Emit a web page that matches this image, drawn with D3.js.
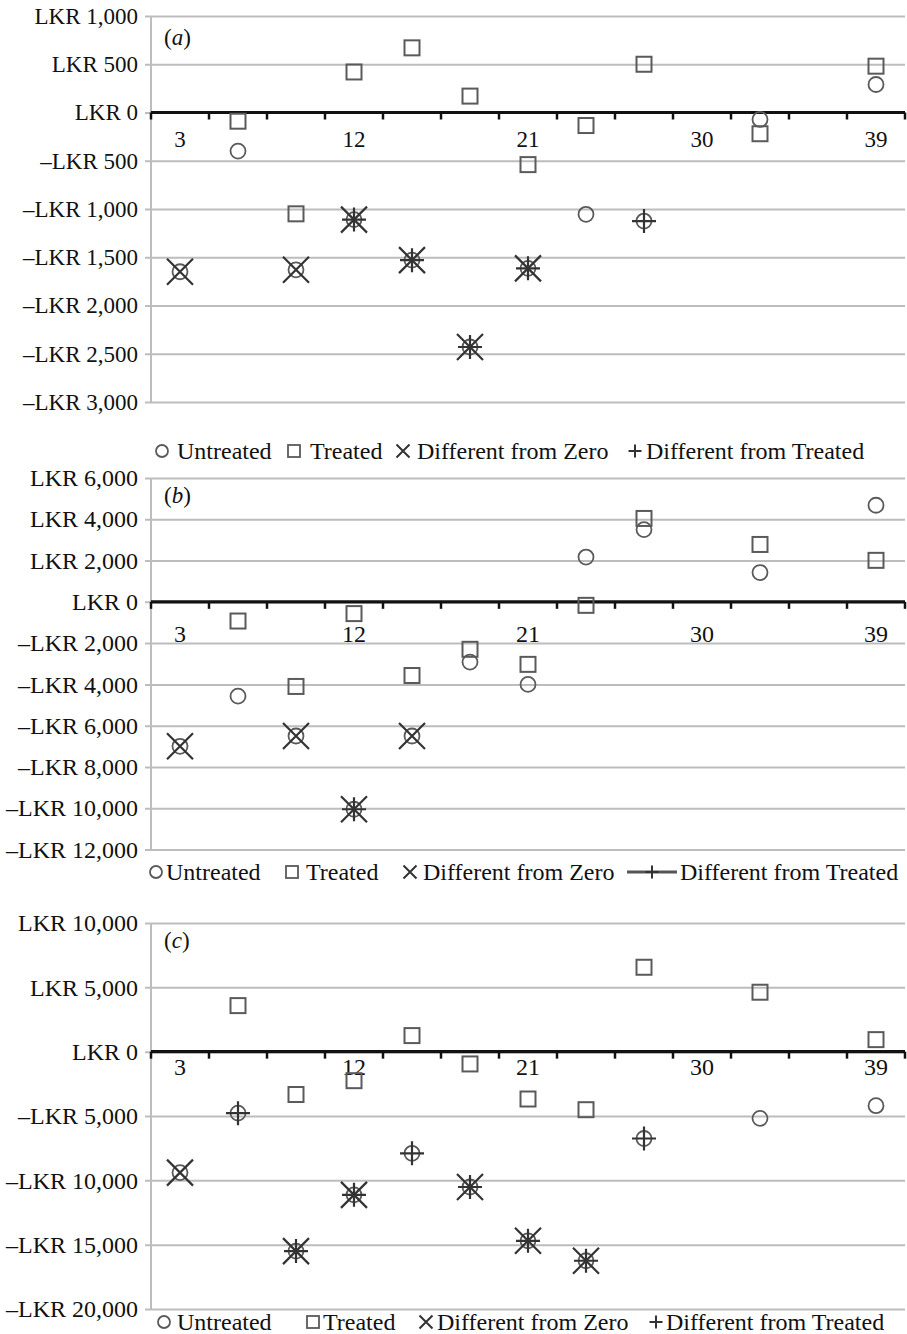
<!DOCTYPE html>
<html>
<head>
<meta charset="utf-8">
<script src="https://cdn.jsdelivr.net/npm/d3@7"></script>
<style>
  body { margin: 0; background: #fff; }
  text { font-family: "Liberation Serif", "DejaVu Serif", serif; fill: #111; }
</style>
</head>
<body>
<svg id="chart" width="907" height="1334"></svg>
<script>
// months after treatment (x categories) and the ones that get a label
const months = [3, 6, 9, 12, 15, 18, 21, 24, 27, 30, 33, 36, 39];
const labelledMonths = [3, 12, 21, 30, 39];
const legendLabels = ['Untreated', 'Treated', 'Different from Zero', 'Different from Treated'];

// panel (a)
const ticksA = [-3000, -2500, -2000, -1500, -1000, -500, 0, 500, 1000];
const untreatedA = [-1650, -400, -1630, -1110, -1530, -2430, -1615, -1055, -1125, null, -72, null, 290];
const treatedA = [null, -90, -1050, 420, 670, 170, -540, -135, 500, null, -220, null, 480];
const diffZeroA = [-1650, null, -1630, -1110, -1530, -2430, -1615, null, null, null, null, null, null];
const diffTreatedA = [null, null, null, -1110, -1530, -2430, -1615, null, -1125, null, null, null, null];

// panel (b)
const ticksB = [-12000, -10000, -8000, -6000, -4000, -2000, 0, 2000, 4000, 6000];
const untreatedB = [-7000, -4570, -6500, -10050, -6500, -2920, -4000, 2170, 3500, null, 1420, null, 4680];
const treatedB = [null, -930, -4100, -570, -3570, -2300, -3030, -170, 4040, null, 2780, null, 2010];
const diffZeroB = [-7000, null, -6500, -10050, -6500, null, null, null, null, null, null, null, null];
const diffTreatedB = [null, null, null, -10050, null, null, null, null, null, null, null, null, null];

// panel (c)
const ticksC = [-20000, -15000, -10000, -5000, 0, 5000, 10000];
const untreatedC = [-9400, -4780, -15500, -11130, -7900, -10520, -14700, -16250, -6750, null, -5180, null, -4200];
const treatedC = [null, 3580, -3330, -2255, 1250, -955, -3680, -4510, 6560, null, 4620, null, 935];
const diffZeroC = [-9400, null, -15500, -11130, null, -10520, -14700, -16250, null, null, null, null, null];
const diffTreatedC = [null, -4780, -15500, -11130, -7900, -10520, -14700, -16250, -6750, null, null, null, null];

const svg = d3.select('#chart');
const left = 151, right = 905;

const panels = [
  { letter: 'a', top: 16, bottom: 402, ticks: ticksA, fs: 23, labelPad: 18, letterY: 45,
    untreated: untreatedA, treated: treatedA, diffZero: diffZeroA, diffTreated: diffTreatedA,
    legendY: 451, legendX: [[162, 177], [294, 310], [403, 417], [635, 646]], lineKey: false },
  { letter: 'b', top: 478, bottom: 849.5, ticks: ticksB, fs: 24, labelPad: 23, letterY: 503,
    untreated: untreatedB, treated: treatedB, diffZero: diffZeroB, diffTreated: diffTreatedB,
    legendY: 872, legendX: [[156, 166], [292, 306], [410, 423], [652, 680]], lineKey: true },
  { letter: 'c', top: 923, bottom: 1309, ticks: ticksC, fs: 24, labelPad: 6, letterY: 948,
    untreated: untreatedC, treated: treatedC, diffZero: diffZeroC, diffTreated: diffTreatedC,
    legendY: 1322, legendX: [[164, 177], [313, 323], [426, 437], [656, 666]], lineKey: false }
];

const fmt = d3.format(',');
const lkr = d => (d < 0 ? '\u2013LKR ' : 'LKR ') + fmt(Math.abs(d));

const xPath = (cx, cy, s) => `M${cx - s},${cy - s}L${cx + s},${cy + s}M${cx - s},${cy + s}L${cx + s},${cy - s}`;
const plusPath = (cx, cy, s) => `M${cx - s},${cy}L${cx + s},${cy}M${cx},${cy - s}L${cx},${cy + s}`;

const x = d3.scaleBand().domain(months).range([left, right]);

panels.forEach(p => {
  const g = svg.append('g');
  const y = d3.scaleLinear()
    .domain([d3.min(p.ticks), d3.max(p.ticks)])
    .range([p.bottom, p.top]);

  // gridlines + y labels
  const yAxis = g.append('g')
    .attr('transform', `translate(${left - 6},0)`)
    .call(d3.axisLeft(y).tickValues(p.ticks).tickFormat(lkr)
      .tickSizeInner(-(right - left + 6)).tickSizeOuter(0).tickPadding(7));
  yAxis.select('.domain').remove();
  yAxis.selectAll('.tick line').attr('stroke', '#bdbdbd').attr('stroke-width', 2);
  yAxis.selectAll('.tick text')
    .style('font-size', p.fs + 'px')
    .style('font-family', '"Liberation Serif", serif')
    .attr('fill', '#111');

  // vertical axis line
  g.append('line')
    .attr('x1', left).attr('x2', left)
    .attr('y1', p.top).attr('y2', p.bottom)
    .attr('stroke', '#bdbdbd').attr('stroke-width', 2);

  // zero line with category tick marks
  const y0 = y(0);
  const bounds = months.map(m => x(m)).concat([right]);
  g.selectAll('.xtick')
    .data(bounds)
    .enter()
    .append('line')
    .attr('x1', d => d).attr('x2', d => d)
    .attr('y1', y0).attr('y2', y0 + 7)
    .attr('stroke', '#111').attr('stroke-width', 2.5);
  g.append('line')
    .attr('x1', left).attr('x2', right)
    .attr('y1', y0).attr('y2', y0)
    .attr('stroke', '#111').attr('stroke-width', 3.2);

  const xAxis = g.append('g')
    .attr('transform', `translate(0,${y0})`)
    .call(d3.axisBottom(x).tickValues(labelledMonths).tickSize(0).tickPadding(p.labelPad));
  xAxis.select('.domain').remove();
  xAxis.selectAll('.tick text')
    .style('font-size', p.fs + 'px')
    .style('font-family', '"Liberation Serif", serif')
    .attr('fill', '#111');

  // panel letter
  const lt = g.append('text').attr('x', 164).attr('y', p.letterY).style('font-size', '23px');
  lt.append('tspan').text('(');
  lt.append('tspan').style('font-style', 'italic').text(p.letter);
  lt.append('tspan').text(')');

  const cx = i => x(months[i]) + x.bandwidth() / 2;

  // treated squares
  g.selectAll('.treated')
    .data(p.treated.map((v, i) => ({ v, i })).filter(d => d.v !== null))
    .enter()
    .append('rect')
    .attr('x', d => cx(d.i) - 7.5)
    .attr('y', d => y(d.v) - 7.5)
    .attr('width', 15).attr('height', 15)
    .attr('fill', 'none').attr('stroke', '#5a5a5a').attr('stroke-width', 2);

  // untreated circles
  g.selectAll('.untreated')
    .data(p.untreated.map((v, i) => ({ v, i })).filter(d => d.v !== null))
    .enter()
    .append('circle')
    .attr('cx', d => cx(d.i))
    .attr('cy', d => y(d.v))
    .attr('r', 7.5)
    .attr('fill', 'none').attr('stroke', '#5a5a5a').attr('stroke-width', 1.8);

  // different from zero (x)
  g.selectAll('.dz')
    .data(p.diffZero.map((v, i) => ({ v, i })).filter(d => d.v !== null))
    .enter()
    .append('path')
    .attr('d', d => xPath(cx(d.i), y(d.v), 13))
    .attr('fill', 'none').attr('stroke', '#333').attr('stroke-width', 2.2);

  // different from treated (+)
  g.selectAll('.dt')
    .data(p.diffTreated.map((v, i) => ({ v, i })).filter(d => d.v !== null))
    .enter()
    .append('path')
    .attr('d', d => plusPath(cx(d.i), y(d.v), 12))
    .attr('fill', 'none').attr('stroke', '#333').attr('stroke-width', 2.2);

  // legend
  const ly = p.legendY;
  const lg = g.append('g');
  const [c0, c1, c2, c3] = p.legendX;
  lg.append('circle').attr('cx', c0[0]).attr('cy', ly).attr('r', 6)
    .attr('fill', 'none').attr('stroke', '#5a5a5a').attr('stroke-width', 1.8);
  lg.append('rect').attr('x', c1[0] - 6).attr('y', ly - 6).attr('width', 12).attr('height', 12)
    .attr('fill', 'none').attr('stroke', '#5a5a5a').attr('stroke-width', 1.8);
  lg.append('path').attr('d', xPath(c2[0], ly, 6.5))
    .attr('fill', 'none').attr('stroke', '#333').attr('stroke-width', 2);
  if (p.lineKey) {
    lg.append('line').attr('x1', c3[0] - 25).attr('x2', c3[0] + 25).attr('y1', ly).attr('y2', ly)
      .attr('stroke', '#555').attr('stroke-width', 3);
  }
  lg.append('path').attr('d', plusPath(c3[0], ly, 6.5))
    .attr('fill', 'none').attr('stroke', '#333').attr('stroke-width', 2);
  lg.selectAll('.ltext')
    .data(legendLabels)
    .enter()
    .append('text')
    .attr('x', (d, i) => p.legendX[i][1])
    .attr('y', ly)
    .attr('dy', '0.34em')
    .style('font-size', '24px')
    .text(d => d);
});
</script>
</body>
</html>
